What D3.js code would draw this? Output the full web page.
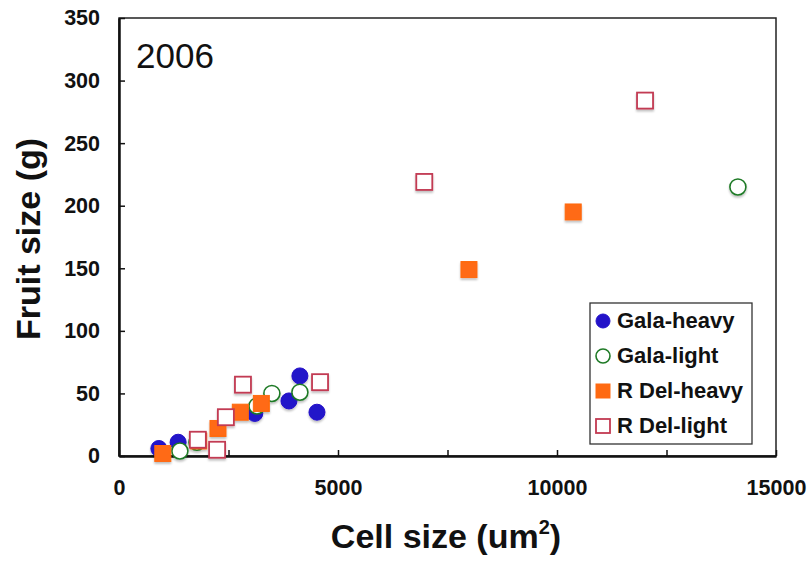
<!DOCTYPE html>
<html>
<head>
<meta charset="utf-8">
<script src="https://cdn.jsdelivr.net/npm/d3@7"></script>
<style>
  body { margin: 0; background: #fff; }
  text { font-family: "Liberation Sans", Arial, sans-serif; }
</style>
</head>
<body>
<div id="chart"></div>
<script>
// values: [cell size (um2), fruit size (g)]
let galaHeavy = [[910, 6], [1350, 11], [3100, 34], [3880, 44], [4130, 64], [4520, 35]];
let galaLight = [[1390, 4], [1780, 11], [3150, 40], [3490, 50], [4130, 51], [14130, 215]];
let rdelHeavy = [[1000, 2], [1820, 12], [2260, 22], [2770, 35], [3250, 42], [7990, 149], [10370, 195]];
let rdelLight = [[1800, 13], [2240, 5], [2440, 31], [2830, 57], [4590, 59], [6970, 219], [12010, 284]];

let xTicks = [0, 5000, 10000, 15000];
let yTicks = [0, 50, 100, 150, 200, 250, 300, 350];

let width = 809, height = 561;
let margin = {left: 119, right: 33, top: 18, bottom: 105};

let svg = d3.select("#chart")
    .append("svg")
    .attr("width", width)
    .attr("height", height);

let defs = svg.append("defs");
let shadow = defs.append("filter").attr("id", "shadow")
    .attr("x", "-50%").attr("y", "-50%").attr("width", "200%").attr("height", "200%");
shadow.append("feGaussianBlur").attr("in", "SourceAlpha").attr("stdDeviation", 1.2).attr("result", "blur");
shadow.append("feOffset").attr("in", "blur").attr("dx", 0).attr("dy", 2).attr("result", "off");
shadow.append("feComponentTransfer").attr("in", "off").attr("result", "soft")
    .append("feFuncA").attr("type", "linear").attr("slope", 0.25);
let merge = shadow.append("feMerge");
merge.append("feMergeNode").attr("in", "soft");
merge.append("feMergeNode").attr("in", "SourceGraphic");

let x = d3.scaleLinear().domain([0, 15000]).range([margin.left, width - margin.right]);
let y = d3.scaleLinear().domain([0, 350]).range([height - margin.bottom, margin.top]);

// frame
svg.append("rect")
    .attr("x", x(0)).attr("y", y(350))
    .attr("width", x(15000) - x(0)).attr("height", y(0) - y(350))
    .attr("fill", "none").attr("stroke", "#222").attr("stroke-width", 1.5);

// axes, ticks point inward
let xAxis = svg.append("g")
    .attr("transform", `translate(0, ${y(0)})`)
    .call(d3.axisBottom(x).tickValues(d3.range(0, 15001, 2500)).tickSizeInner(-6).tickSizeOuter(0)
        .tickFormat(d => xTicks.includes(d) ? d : ""));
xAxis.select(".domain").attr("stroke", "#111").attr("stroke-width", 2.5);
xAxis.selectAll("line").attr("stroke", "#111").attr("stroke-width", 1.5);
xAxis.selectAll("text")
    .attr("y", 24)
    .style("font-size", "21.5px").style("font-weight", 700).attr("fill", "#111");

let yAxis = svg.append("g")
    .attr("transform", `translate(${x(0)}, 0)`)
    .call(d3.axisLeft(y).tickValues(yTicks).tickSizeInner(-6).tickSizeOuter(0));
yAxis.select(".domain").attr("stroke", "#111").attr("stroke-width", 2.5);
yAxis.selectAll("line").attr("stroke", "#111").attr("stroke-width", 1.5);
yAxis.selectAll("text")
    .attr("x", -19)
    .style("font-size", "21.5px").style("font-weight", 700).attr("fill", "#111");

// axis titles
let xTitle = svg.append("text")
    .attr("x", 446).attr("y", 548)
    .attr("text-anchor", "middle")
    .style("font-size", "34px").style("font-weight", 700).attr("fill", "#111");
xTitle.append("tspan").text("Cell size (um");
xTitle.append("tspan").attr("dy", -14).style("font-size", "20px").text("2");
xTitle.append("tspan").attr("dy", 14).text(")");

svg.append("text")
    .attr("transform", `translate(40, 239) rotate(-90)`)
    .attr("text-anchor", "middle")
    .style("font-size", "34px").style("font-weight", 700).attr("fill", "#111")
    .text("Fruit size (g)");

svg.append("text")
    .attr("x", 136).attr("y", 68)
    .style("font-size", "35px").attr("fill", "#111")
    .text("2006");

// series styles
let series = [
    {name: "Gala-heavy", data: galaHeavy, shape: "circle", fill: "#2312c9", stroke: "#2312c9"},
    {name: "Gala-light", data: galaLight, shape: "circle", fill: "#fff", stroke: "#1f7a26"},
    {name: "R Del-heavy", data: rdelHeavy, shape: "square", fill: "#ff6a12", stroke: "#ff6a12"},
    {name: "R Del-light", data: rdelLight, shape: "square", fill: "#fff", stroke: "#c23a52"}
];

function drawMarker(g, s, cx, cy, size) {
    if (s.shape === "circle") {
        g.append("circle")
            .attr("cx", cx).attr("cy", cy).attr("r", size / 2 - 0.5)
            .attr("fill", s.fill).attr("stroke", s.stroke).attr("stroke-width", s.fill === "#fff" ? 1.6 : 1);
    } else {
        g.append("rect")
            .attr("x", cx - size / 2 + 0.5).attr("y", cy - size / 2 + 0.5)
            .attr("width", size - 1).attr("height", size - 1)
            .attr("fill", s.fill).attr("stroke", s.stroke).attr("stroke-width", s.fill === "#fff" ? 1.8 : 1);
    }
}

let points = svg.append("g").attr("filter", "url(#shadow)");
series.forEach(function(s) {
    let g = points.append("g");
    s.data.forEach(function(d) {
        drawMarker(g, s, x(d[0]), y(d[1]), 17);
    });
});

// legend
let legend = svg.append("g");
legend.append("rect")
    .attr("x", 590).attr("y", 303).attr("width", 162).attr("height", 141)
    .attr("fill", "#fff").attr("stroke", "#333").attr("stroke-width", 1.3);
series.forEach(function(s, i) {
    let ly = 328 + i * 35;
    drawMarker(legend, s, 603, ly - 7, 15);
    legend.append("text")
        .attr("x", 617).attr("y", ly)
        .style("font-size", "22px").style("font-weight", 700).attr("fill", "#111")
        .text(s.name);
});
</script>
</body>
</html>
